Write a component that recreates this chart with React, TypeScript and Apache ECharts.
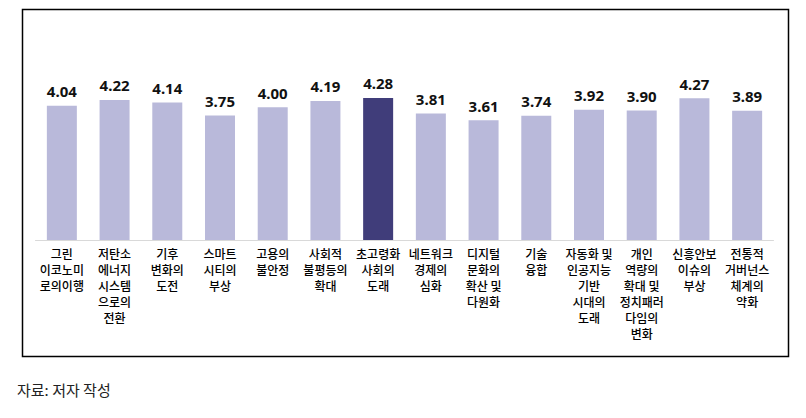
import React, { useEffect, useRef } from "react";
import * as echarts from "echarts";

const categories = [
  "그린\n이코노미\n로의이행",
  "저탄소\n에너지\n시스템\n으로의\n전환",
  "기후\n변화의\n도전",
  "스마트\n시티의\n부상",
  "고용의\n불안정",
  "사회적\n불평등의\n확대",
  "초고령화\n사회의\n도래",
  "네트워크\n경제의\n심화",
  "디지털\n문화의\n확산 및\n다원화",
  "기술\n융합",
  "자동화 및\n인공지능\n기반\n시대의\n도래",
  "개인\n역량의\n확대 및\n정치패러\n다임의\n변화",
  "신흥안보\n이슈의\n부상",
  "전통적\n거버넌스\n체계의\n약화",
];
const values = [4.04, 4.22, 4.14, 3.75, 4.0, 4.19, 4.28, 3.81, 3.61, 3.74, 3.92, 3.9, 4.27, 3.89];
const highlightIndex = 6;
const sourceNote = "자료: 저자 작성";

export default function App() {
  const ref = useRef<HTMLDivElement>(null);
  useEffect(() => {
    if (!ref.current) return;
    const chart = echarts.init(ref.current, undefined, { renderer: "svg" });
    chart.setOption({
      animation: false,
      backgroundColor: "#ffffff",
      grid: { left: 35.5, right: 32.5, top: 74, bottom: 178, containLabel: false },
      xAxis: {
        type: "category",
        data: categories,
        axisLine: { lineStyle: { color: "#d9d9d9", width: 1 } },
        axisTick: { show: false },
        axisLabel: {
          interval: 0,
          color: "#000000",
          fontSize: 12,
          lineHeight: 16,
          fontFamily: "Noto Sans CJK KR",
          fontWeight: 500,
          margin: 5,
        },
      },
      yAxis: {
        type: "value",
        min: 0,
        max: 5,
        show: false,
        splitLine: { show: false },
      },
      series: [
        {
          type: "bar",
          barWidth: 30,
          data: values.map((v, i) => ({
            value: v,
            itemStyle: { color: i === highlightIndex ? "#403d7a" : "#b9b9da" },
          })),
          label: {
            show: true,
            position: "top",
            distance: 7,
            formatter: (p: any) => Number(p.value).toFixed(2),
            color: "#111111",
            fontSize: 15,
            fontWeight: "bold",
            fontFamily: "Noto Sans",
          },
        },
      ],
      graphic: [
        {
          type: "rect",
          shape: { x: 22.5, y: 9.5, width: 766, height: 347 },
          style: { fill: "none", stroke: "#000000", lineWidth: 1.5 },
          silent: true,
        },
        {
          type: "text",
          x: 17,
          y: 389,
          style: {
            text: sourceNote,
            fontSize: 15,
            fill: "#222222",
            fontFamily: "Noto Sans CJK KR",
            verticalAlign: "middle",
          },
        },
      ],
    });
    return () => chart.dispose();
  }, []);
  return (
    <div
      ref={ref}
      style={{ position: "fixed", left: 0, top: 0, width: 806, height: 418 }}
    />
  );
}
